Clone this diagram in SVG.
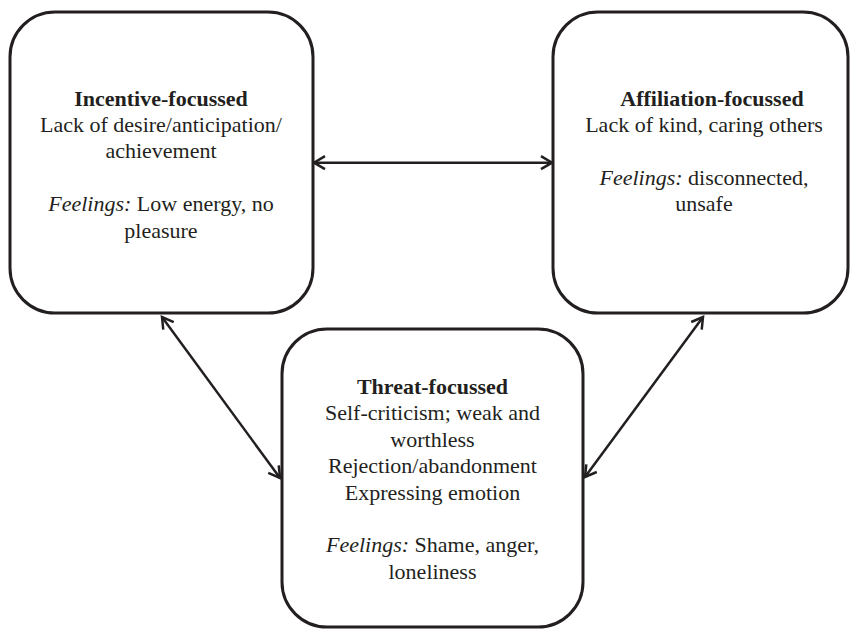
<svg xmlns="http://www.w3.org/2000/svg" width="850" height="629" viewBox="0 0 850 629">
<style>
.box{fill:#fff;stroke:#231f20;stroke-width:3}
.t{font-family:"Liberation Serif","Times New Roman",serif;font-size:22px;fill:#231f20;text-anchor:middle}
.b{font-weight:bold}
.i{font-style:italic}
.c{stroke:#231f20;stroke-width:2.5;fill:none}
</style>
<defs>
<marker id="ah" markerUnits="userSpaceOnUse" markerWidth="20" markerHeight="20" refX="0" refY="0" viewBox="-14 -10 16 20" orient="auto-start-reverse">
<path d="M-11,-6.5 L0,0 L-11,6.5" fill="none" stroke="#231f20" stroke-width="2.5"/>
</marker>
</defs>
<rect width="850" height="629" fill="#fff"/>
<g id="incentive">
<rect class="box" x="10" y="12" width="303" height="301" rx="45"/>
<text class="t b" x="161" y="105.5">Incentive-focussed</text>
<text class="t" x="161" y="131.9">Lack of desire/anticipation/</text>
<text class="t" x="161" y="158.3">achievement</text>
<text class="t" x="161" y="211.1"><tspan class="i">Feelings:</tspan> Low energy, no</text>
<text class="t" x="161" y="237.5">pleasure</text>
</g>
<g id="affiliation">
<rect class="box" x="553" y="12" width="295" height="301" rx="45"/>
<text class="t b" x="712" y="105.5">Affiliation-focussed</text>
<text class="t" x="704" y="131.9">Lack of kind, caring others</text>
<text class="t" x="704" y="184.7"><tspan class="i">Feelings:</tspan> disconnected,</text>
<text class="t" x="704" y="211.1">unsafe</text>
</g>
<g id="threat">
<rect class="box" x="282" y="329" width="301" height="298" rx="45"/>
<text class="t b" x="432.5" y="394">Threat-focussed</text>
<text class="t" x="432.5" y="420.4">Self-criticism; weak and</text>
<text class="t" x="432.5" y="446.8">worthless</text>
<text class="t" x="432.5" y="473.2">Rejection/abandonment</text>
<text class="t" x="432.5" y="499.6">Expressing emotion</text>
<text class="t" x="432.5" y="552.4"><tspan class="i">Feelings:</tspan> Shame, anger,</text>
<text class="t" x="432.5" y="578.8">loneliness</text>
</g>
<g id="connectors">
<line class="c" x1="314" y1="162.7" x2="552" y2="162.7" marker-start="url(#ah)" marker-end="url(#ah)"/>
<line class="c" x1="162" y1="317" x2="280" y2="478" marker-start="url(#ah)" marker-end="url(#ah)"/>
<line class="c" x1="703" y1="317" x2="585" y2="477" marker-start="url(#ah)" marker-end="url(#ah)"/>
</g>
</svg>
